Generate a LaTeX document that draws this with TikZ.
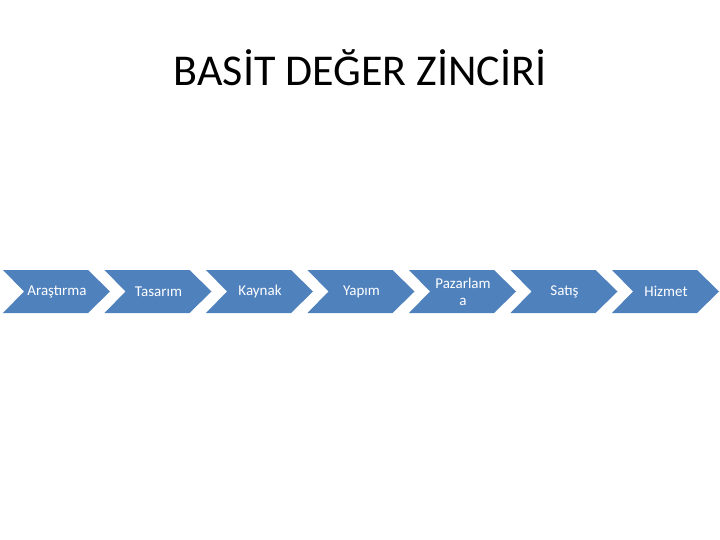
\documentclass[tikz,border=0pt]{standalone}
\usepackage{fontspec}
\setmainfont{Carlito}
\begin{document}
\begin{tikzpicture}[x=1pt,y=-1pt,
  chev/.style={fill=blue!45!black!20!cyan!0, draw=none},
  lab/.style={text=white, font=\fontsize{15}{17}\selectfont, align=center}]
\definecolor{cb}{HTML}{4F81BD}
\useasboundingbox (0,0) rectangle (720,540);
\node[font=\fontsize{44}{48}\selectfont] (title) at (360,68) {BASİT DEĞER ZİNCİRİ};
\foreach \i/\t [count=\k] in {0/Araştırma,1/Tasarım,2/Kaynak,3/Yapım,4/{Pazarlam\\a},5/Satış,6/Hizmet}{
  \pgfmathsetmacro{\xa}{3+101.5*\i}
  \fill[cb] (\xa,270) -- (\xa+85,270) -- (\xa+107,291.5) -- (\xa+85,313) -- (\xa,313) -- (\xa+21,291.5) -- cycle;
  \node[lab] (n\k) at (\xa+54,291.5) {\t};
}
\end{tikzpicture}
\end{document}
